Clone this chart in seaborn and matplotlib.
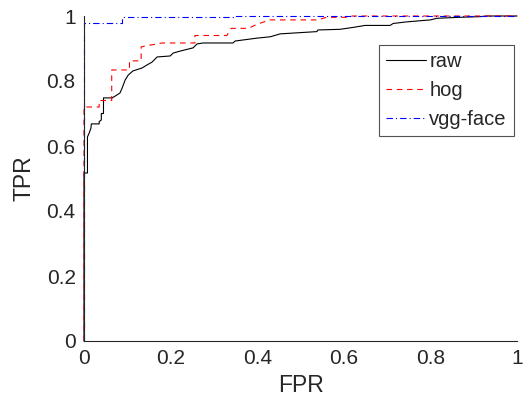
import matplotlib
matplotlib.use("Agg")
import matplotlib.pyplot as plt
import seaborn as sns
import pandas as pd
from matplotlib.ticker import FixedLocator, FixedFormatter

# ---- data ----
raw_fpr = [0, 0, 0.008, 0.008, 0.012, 0.016, 0.017, 0.035, 0.035, 0.040, 0.040, 0.045, 0.045,
           0.065, 0.070, 0.083, 0.088, 0.095, 0.102, 0.113, 0.134, 0.145, 0.157, 0.169, 0.199,
           0.206, 0.222, 0.252, 0.261, 0.275, 0.344, 0.349, 0.400, 0.430, 0.453, 0.538, 0.540,
           0.591, 0.622, 0.649, 0.707, 0.714, 0.746, 0.800, 0.815, 0.868, 0.915, 0.930, 1.0]
raw_tpr = [0, 0.517, 0.517, 0.628, 0.640, 0.655, 0.668, 0.668, 0.675, 0.680, 0.700, 0.700, 0.748,
           0.748, 0.752, 0.763, 0.778, 0.803, 0.818, 0.831, 0.840, 0.849, 0.858, 0.874, 0.877,
           0.886, 0.892, 0.902, 0.914, 0.917, 0.917, 0.923, 0.932, 0.936, 0.945, 0.952, 0.957,
           0.959, 0.965, 0.971, 0.971, 0.977, 0.982, 0.988, 0.993, 0.996, 0.998, 1.0, 1.0]

hog_fpr = [0, 0, 0.035, 0.035, 0.064, 0.064, 0.105, 0.105, 0.132, 0.132, 0.145, 0.165, 0.180,
           0.256, 0.256, 0.330, 0.340, 0.380, 0.400, 0.430, 0.540, 0.560, 0.610, 0.620, 1.0]
hog_tpr = [0, 0.720, 0.720, 0.740, 0.740, 0.834, 0.834, 0.862, 0.862, 0.905, 0.909, 0.913, 0.917,
           0.917, 0.940, 0.940, 0.962, 0.962, 0.975, 0.988, 0.988, 0.996, 0.996, 1.0, 1.0]

vgg_fpr = [0, 0, 0.088, 0.088, 0.344, 0.344, 1.0]
vgg_tpr = [0, 0.977, 0.977, 0.997, 0.997, 1.0, 1.0]

series = ["raw", "hog", "vgg-face"]
tick_vals = [0, 0.2, 0.4, 0.6, 0.8, 1]
tick_labels = ["0", "0.2", "0.4", "0.6", "0.8", "1"]

frames = []
for name, fx, fy in [("raw", raw_fpr, raw_tpr), ("hog", hog_fpr, hog_tpr),
                     ("vgg-face", vgg_fpr, vgg_tpr)]:
    frames.append(pd.DataFrame({"FPR": fx, "TPR": fy, "method": name}))
df = pd.concat(frames, ignore_index=True)

# ---- style ----
sns.set_style("white")
plt.rcParams["font.family"] = ["Liberation Sans", "DejaVu Sans"]
plt.rcParams["lines.scale_dashes"] = False
txt = "#262626"

fig = plt.figure(figsize=(5.32, 4.16), dpi=100)
ax = fig.add_axes([84 / 532, 1 - 341 / 416, 433 / 532, 325 / 416])

palette = {"raw": "#000000", "hog": "#ff0000", "vgg-face": "#0000ff"}
dashes = {"raw": "", "hog": (4.0, 3.4), "vgg-face": (4.6, 2.2, 0.8, 2.2)}

sns.lineplot(data=df, x="FPR", y="TPR", hue="method", style="method",
             hue_order=series, style_order=series, palette=palette, dashes=dashes,
             units="method", estimator=None, sort=False, lw=0.8, clip_on=False, ax=ax)

ax.set_xlim(0, 1)
ax.set_ylim(0, 1)
ax.xaxis.set_major_locator(FixedLocator(tick_vals))
ax.xaxis.set_major_formatter(FixedFormatter(tick_labels))
ax.yaxis.set_major_locator(FixedLocator(tick_vals))
ax.yaxis.set_major_formatter(FixedFormatter(tick_labels))

for s in ["top", "right"]:
    ax.spines[s].set_visible(False)
for s in ["left", "bottom"]:
    ax.spines[s].set_color(txt)
    ax.spines[s].set_linewidth(0.8)

ax.tick_params(axis="both", direction="in", length=4, width=0.8, colors=txt,
               labelsize=15, labelcolor=txt, pad=6)
ax.set_xlabel("FPR", fontsize=16.5, color=txt, labelpad=4)
ax.set_ylabel("TPR", fontsize=16.5, color=txt, labelpad=8)

handles, labels = ax.get_legend_handles_labels()
leg = ax.legend(handles, labels, loc="upper right", bbox_to_anchor=(0.993, 0.911),
                borderaxespad=0, fontsize=14.5, frameon=True, fancybox=False,
                handlelength=2.0, handletextpad=0.15, labelspacing=0.5,
                borderpad=0.35)
leg.get_frame().set_edgecolor(txt)
leg.get_frame().set_linewidth(0.8)
for t in leg.get_texts():
    t.set_color(txt)

fig.savefig("out.png", dpi=100)
